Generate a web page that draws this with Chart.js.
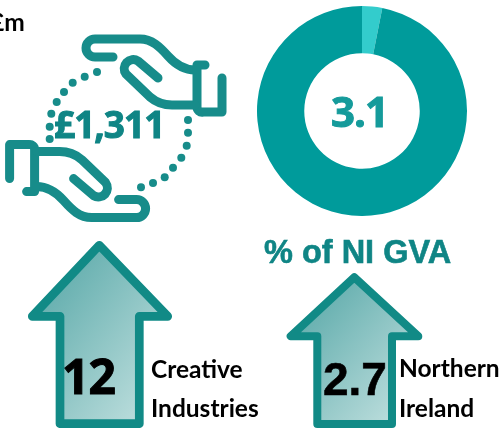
<!DOCTYPE html>
<html>
<head>
<meta charset="utf-8">
<title>Creative industries GVA</title>
<script src="https://cdn.jsdelivr.net/npm/chart.js@4"></script>
<style>
  html, body { margin: 0; padding: 0; background: #fff; overflow: hidden; }
  #page { position: relative; width: 500px; height: 428px; overflow: hidden; }
  #donut-box { position: absolute; left: 257px; top: 6px; width: 210px; height: 210px; }
  #art { position: absolute; left: 0; top: 0; }
  .big { font-family: "Liberation Sans", Arial, sans-serif; font-weight: 700; stroke-width: 0.6; }
  /* Liberation's 1 has a foot, the reference's does not */
  .num { font-family: "Open Sans", Arial, sans-serif; font-weight: 700; stroke-width: 1; letter-spacing: -1px; }
  .small { font-family: Lato, Carlito, sans-serif; font-weight: 700; font-size: 24.5px; fill: #000; }
  .hand { fill: none; stroke: #178c8a; stroke-width: 9; stroke-linecap: round; stroke-linejoin: round; }
  .arrow { stroke: #118a86; stroke-linejoin: round; }
</style>
</head>
<body>
<div id="page">
  <div id="donut-box"><canvas id="donut" width="210" height="210"></canvas></div>
  <svg id="art" width="500" height="428" viewBox="0 0 500 428" xmlns="http://www.w3.org/2000/svg">
    <defs>
      <linearGradient id="fill1" x1="0" y1="0" x2="1" y2="1">
        <stop offset="0" stop-color="#4fa3a3"/>
        <stop offset="1" stop-color="#c8e4e3"/>
      </linearGradient>
      <g id="hand">
        <path class="hand" d="M113 57 H95 A9 9 0 0 1 95 39 H140 C152 39 160 47 168 56 C176 65 184 70 195 70"/>
        <path class="hand" d="M205 65 H197 V107 A5 5 0 0 0 203 112 H222 V78"/>
        <path class="hand" d="M158 78 L138 61 A9 9 0 0 0 126 74 L150 97 C157 103 165 105 172 105 H195"/>
      </g>
    </defs>

    <!-- hands + dots round the first figure -->
    <use href="#hand"/>
    <use href="#hand" transform="rotate(180 115.8 128.3)"/>
    <g id="dots" fill="#178c8a"></g>
    <text class="num" x="54" y="138" font-size="37" fill="#0f8585" stroke="#0f8585">£1,311</text>
    <text class="num" x="331" y="127" font-size="42" fill="#159b9b" stroke="#159b9b">3.1</text>
    <text class="big" x="264" y="263" font-size="32.5" fill="#0f8585" stroke="#0f8585">% of NI GVA</text>

    <!-- arrows -->
    <path class="arrow" stroke-width="8.7" fill="url(#fill1)" d="M99.3 245.3 L32.3 316.3 H60 V423.7 H139.3 V316.3 H167.7 Z"/>
    <path class="arrow" stroke-width="8" fill="url(#fill1)" d="M354.3 277.3 L290.7 336.3 H317.3 V424 H392 V336.3 H418.3 Z"/>

    <text class="num" x="62" y="394" font-size="48" fill="#000" stroke="#000">12</text>
    <text class="big" x="323" y="395" font-size="46" fill="#000" stroke="#000">2.7</text>

    <text class="small" x="-10" y="31">£m</text>
    <text class="small" x="151" y="378">Creative</text>
    <text class="small" x="151" y="417">Industries</text>
    <text class="small" x="399" y="377">Northern</text>
    <text class="small" x="399" y="417">Ireland</text>
  </svg>
</div>
<script>
const categories = ["Creative Industries", "Rest of NI economy"];
const shareValues = [3.1, 96.9];
const sliceColours = ["#33cccc", "#009b9b"];

// dots of the ring behind the hands
const dotX = [97, 84.7, 72.7, 64, 56.7, 51.3, 49.7, 49.7, 141, 153, 164.7, 173, 181.3, 186.7, 188, 188];
const dotY = [72, 76.7, 82.7, 92, 102, 113.7, 126.7, 139, 187.3, 183, 177.3, 167.7, 157.7, 145.7, 132.7, 120];

const dots = document.getElementById("dots");
dots.innerHTML = dotX.map((x, i) => `<circle cx="${x}" cy="${dotY[i]}" r="4"/>`).join("");

new Chart(document.getElementById("donut"), {
  type: "doughnut",
  data: {
    labels: categories,
    datasets: [{
      data: shareValues,
      backgroundColor: sliceColours,
      borderWidth: 0
    }]
  },
  options: {
    responsive: false,
    animation: false,
    cutout: "55%",
    plugins: {
      legend: { display: false },
      tooltip: { enabled: false }
    }
  }
});
</script>
</body>
</html>
